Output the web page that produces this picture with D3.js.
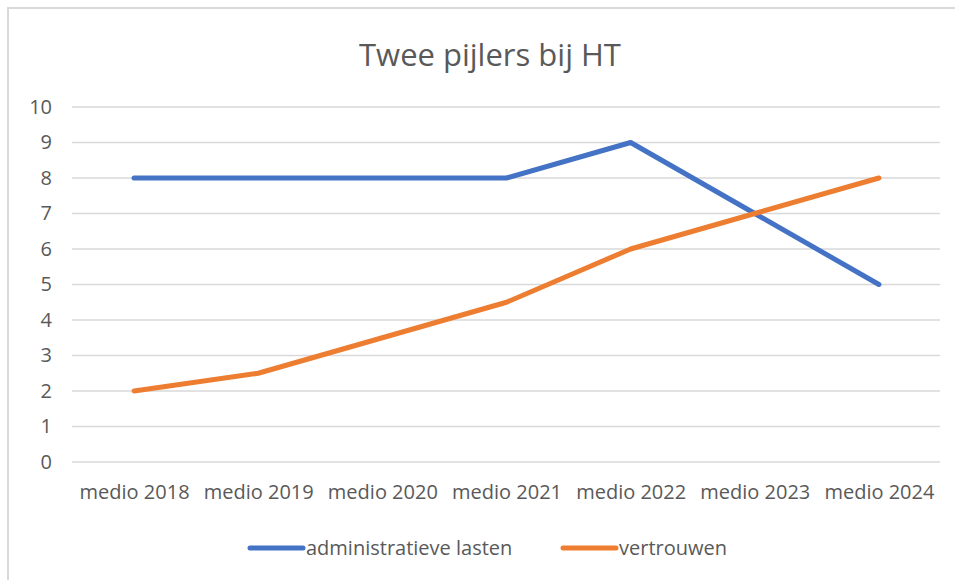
<!DOCTYPE html>
<html>
<head>
<meta charset="utf-8">
<script src="https://cdn.jsdelivr.net/npm/d3@7"></script>
<style>
  body { margin: 0; background: #fff; }
  svg { display: block; font-family: "Open Sans", sans-serif; }
</style>
</head>
<body>
<svg id="chart" width="955" height="580"></svg>
<script>
// chart data
var categories = ["medio 2018", "medio 2019", "medio 2020", "medio 2021", "medio 2022", "medio 2023", "medio 2024"];
var adminLasten = [8, 8, 8, 8, 9, 7, 5];
var vertrouwen = [2, 2.5, 3.5, 4.5, 6, 7, 8];
var yTicks = [0, 1, 2, 3, 4, 5, 6, 7, 8, 9, 10];
var seriesNames = ["administratieve lasten", "vertrouwen"];
var seriesColors = ["#4472C4", "#ED7D31"];

var margin = {top: 107, right: 15, bottom: 118, left: 72},
  width = 955 - margin.left - margin.right,
  height = 580 - margin.top - margin.bottom;

var svg = d3.select("#chart");

// outer frame like the office chart border
svg.append("rect")
  .attr("x", 8).attr("y", 8)
  .attr("width", 960).attr("height", 590)
  .attr("fill", "none")
  .attr("stroke", "#d9d9d9")
  .attr("stroke-width", 2);

svg.append("text")
  .attr("x", 490)
  .attr("y", 66)
  .attr("text-anchor", "middle")
  .attr("fill", "#595959")
  .style("font-size", "31px")
  .text("Twee pijlers bij HT");

var g = svg.append("g").attr("transform", `translate(${margin.left},${margin.top})`);

var x = d3.scalePoint()
  .domain(categories)
  .range([0, width + 1])
  .padding(0.5);

var y = d3.scaleLinear()
  .domain([0, 10])
  .range([height, 0]);

// gridlines
g.append("g")
  .selectAll("line")
  .data(yTicks)
  .join("line")
  .attr("x1", 0).attr("x2", width)
  .attr("y1", d => y(d)).attr("y2", d => y(d))
  .attr("stroke", "#d9d9d9")
  .attr("stroke-width", 1.5);

// y axis labels
var yAxis = g.append("g")
  .attr("transform", "translate(-20,0)")
  .call(d3.axisLeft(y).tickValues(yTicks).tickSize(0).tickPadding(0));
yAxis.select(".domain").remove();
yAxis.selectAll("text")
  .attr("fill", "#595959")
  .style("font-size", "20px")
  .style("font-family", "Open Sans, sans-serif");

// x axis labels
var xAxis = g.append("g")
  .attr("transform", `translate(0,${height})`)
  .call(d3.axisBottom(x).tickSize(0).tickPadding(23));
xAxis.select(".domain").remove();
xAxis.selectAll("text")
  .attr("fill", "#595959")
  .style("font-size", "20px")
  .style("font-family", "Open Sans, sans-serif");

var line = d3.line()
  .x((d, i) => x(categories[i]))
  .y(d => y(d));

[adminLasten, vertrouwen].forEach(function(s, i) {
  g.append("path")
    .datum(s)
    .attr("fill", "none")
    .attr("stroke", seriesColors[i])
    .attr("stroke-width", 5)
    .attr("stroke-linecap", "round")
    .attr("stroke-linejoin", "round")
    .attr("d", line);
});

// legend
var legendX = [250, 563];
var legend = svg.append("g");
seriesNames.forEach(function(n, i) {
  legend.append("line")
    .attr("x1", legendX[i]).attr("x2", legendX[i] + 53)
    .attr("y1", 548).attr("y2", 548)
    .attr("stroke", seriesColors[i])
    .attr("stroke-width", 5)
    .attr("stroke-linecap", "round");
  legend.append("text")
    .attr("x", legendX[i] + 56)
    .attr("y", 555)
    .attr("fill", "#595959")
    .style("font-size", "20px")
    .text(n);
});
</script>
</body>
</html>
